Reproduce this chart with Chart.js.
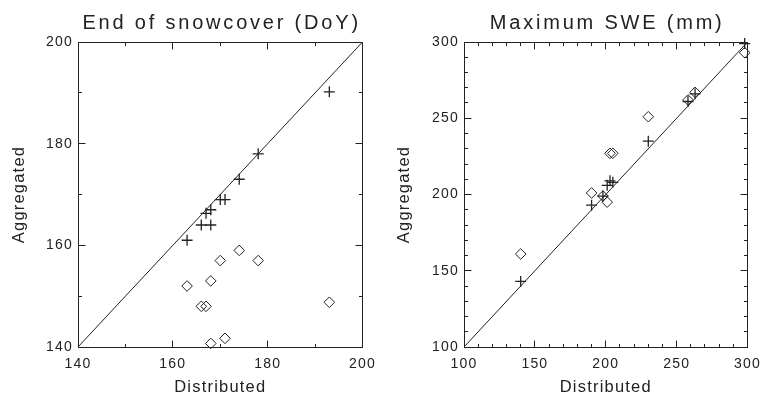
<!DOCTYPE html>
<html>
<head>
<meta charset="utf-8">
<script src="https://cdn.jsdelivr.net/npm/chart.js@4.4.1/dist/chart.umd.min.js"></script>
<style>
  html, body { margin: 0; padding: 0; background: #fff; }
  #wrap { display: flex; width: 770px; height: 394px; }
  canvas { display: block; }
</style>
</head>
<body>
<div id="wrap">
  <canvas id="snowChart" width="385" height="394"></canvas>
  <canvas id="sweChart" width="385" height="394"></canvas>
</div>
<script>
// End of snowcover (day of year)
const snowDistributed = [163, 166, 167, 168, 168, 170, 171, 174, 178, 193];
const snowAggCross    = [161, 164, 166.3, 164, 167, 169, 169, 173, 178, 190.2];
const snowAggDiamond  = [152, 148, 148, 153, 140.7, 157, 141.7, 159, 157, 148.8];
const snowRange = [140, 200];

// Maximum SWE (mm)
const sweDistributed = [140, 190, 198, 201, 203, 205, 230, 258, 263, 298];
const sweAggCross    = [143, 193, 199, 206, 209, 208, 235, 261, 266, 299];
const sweAggDiamond  = [161, 201, 199, 195, 227, 227, 251, 262, 267, 293];
const sweRange = [100, 300];

const ink = '#222';
Chart.defaults.font.family = '"Liberation Sans", Arial, Helvetica, sans-serif';
Chart.defaults.color = ink;

const crisp = v => Math.round(v - 0.5) + 0.5;

// canvas letter spacing + panel title (IDL-ish wide text)
const panelTitle = {
  id: 'panelTitle',
  beforeLayout(chart) { chart.ctx.letterSpacing = '1.2px'; },
  beforeDraw(chart) { chart.ctx.letterSpacing = '1.2px'; },
  afterDraw(chart, args, opts) {
    const { ctx, chartArea } = chart;
    ctx.save();
    ctx.font = '20px "Liberation Sans", Arial, sans-serif';
    ctx.letterSpacing = '2.8px';
    ctx.fillStyle = ink;
    ctx.textAlign = 'center';
    ctx.textBaseline = 'middle';
    ctx.fillText(opts.text, (chartArea.left + chartArea.right) / 2 + 1.4, 23.5);
    ctx.restore();
  }
};

// closed box with inward ticks on all four sides, taken from the x/y scales' ticks
const boxTicks = {
  id: 'boxTicks',
  afterDraw(chart, args, opts) {
    const { ctx, chartArea: a, scales } = chart;
    const top = crisp(a.top), bottom = crisp(a.bottom), left = crisp(a.left), right = crisp(a.right);
    ctx.save();
    ctx.strokeStyle = ink;
    ctx.lineWidth = 1;
    ctx.beginPath();
    ctx.moveTo(left, top); ctx.lineTo(right, top); ctx.lineTo(right, bottom);
    scales.x.ticks.forEach(t => {
      const px = crisp(scales.x.getPixelForValue(t.value));
      const len = t.value % opts.major === 0 ? 7 : 3.5;
      ctx.moveTo(px, bottom); ctx.lineTo(px, bottom - len);
      ctx.moveTo(px, top); ctx.lineTo(px, top + len);
    });
    scales.y.ticks.forEach(t => {
      const py = crisp(scales.y.getPixelForValue(t.value));
      const len = t.value % opts.major === 0 ? 7 : 3.5;
      ctx.moveTo(left, py); ctx.lineTo(left + len, py);
      ctx.moveTo(right, py); ctx.lineTo(right - len, py);
    });
    ctx.stroke();
    ctx.restore();
  }
};

function makePanel(id, title, dist, cross, diamond, range, minor, major, yWidth) {
  const [min, max] = range;
  const labelTicks = {
    stepSize: minor, autoSkip: false, maxRotation: 0,
    font: { size: 14 }, color: ink,
    callback: v => (v % major === 0 ? v : '')
  };
  return new Chart(document.getElementById(id), {
    type: 'scatter',
    data: {
      datasets: [
        {
          data: dist.map((x, i) => ({ x, y: cross[i] })),
          pointStyle: 'cross', pointRadius: 5.5, pointHoverRadius: 5.5,
          pointBorderColor: ink, pointBorderWidth: 1.3,
          clip: false
        },
        {
          data: dist.map((x, i) => ({ x, y: diamond[i] })),
          pointStyle: 'rectRot', pointRadius: 5.3, pointHoverRadius: 5.3,
          pointBorderColor: ink, pointBackgroundColor: 'rgba(0,0,0,0)', pointBorderWidth: 1,
          clip: false
        },
        {
          // 1:1 line
          data: [{ x: min, y: min }, { x: max, y: max }],
          showLine: true, borderColor: ink, borderWidth: 1, pointRadius: 0
        }
      ]
    },
    options: {
      responsive: false,
      animation: false,
      events: [],
      layout: { padding: { top: 42, right: 17, left: 0, bottom: 0 } },
      plugins: {
        legend: { display: false },
        tooltip: { enabled: false },
        panelTitle: { text: title },
        boxTicks: { major }
      },
      scales: {
        x: {
          type: 'linear', position: 'bottom', min, max,
          ticks: Object.assign({ padding: 9 }, labelTicks),
          grid: { drawOnChartArea: false, drawTicks: false },
          border: { color: ink, width: 1 },
          title: { display: true, text: 'Distributed', color: ink, font: { size: 16.5, lineHeight: 0.85 }, padding: { top: 0, bottom: 0 } },
          afterFit: s => { s.height = 47; }
        },
        y: {
          type: 'linear', position: 'left', min, max,
          ticks: Object.assign({ padding: 5 }, labelTicks),
          grid: { drawOnChartArea: false, drawTicks: false },
          border: { color: ink, width: 1 },
          title: { display: true, text: 'Aggregated', color: ink, font: { size: 16.5, lineHeight: 0.85 }, padding: { top: 12.5, bottom: 0 } },
          afterFit: s => { s.width = yWidth; }
        }
      }
    },
    plugins: [panelTitle, boxTicks]
  });
}

makePanel('snowChart', 'End of snowcover (DoY)', snowDistributed, snowAggCross, snowAggDiamond, snowRange, 10, 20, 78);
makePanel('sweChart', 'Maximum SWE (mm)', sweDistributed, sweAggCross, sweAggDiamond, sweRange, 10, 50, 79);
</script>
</body>
</html>
